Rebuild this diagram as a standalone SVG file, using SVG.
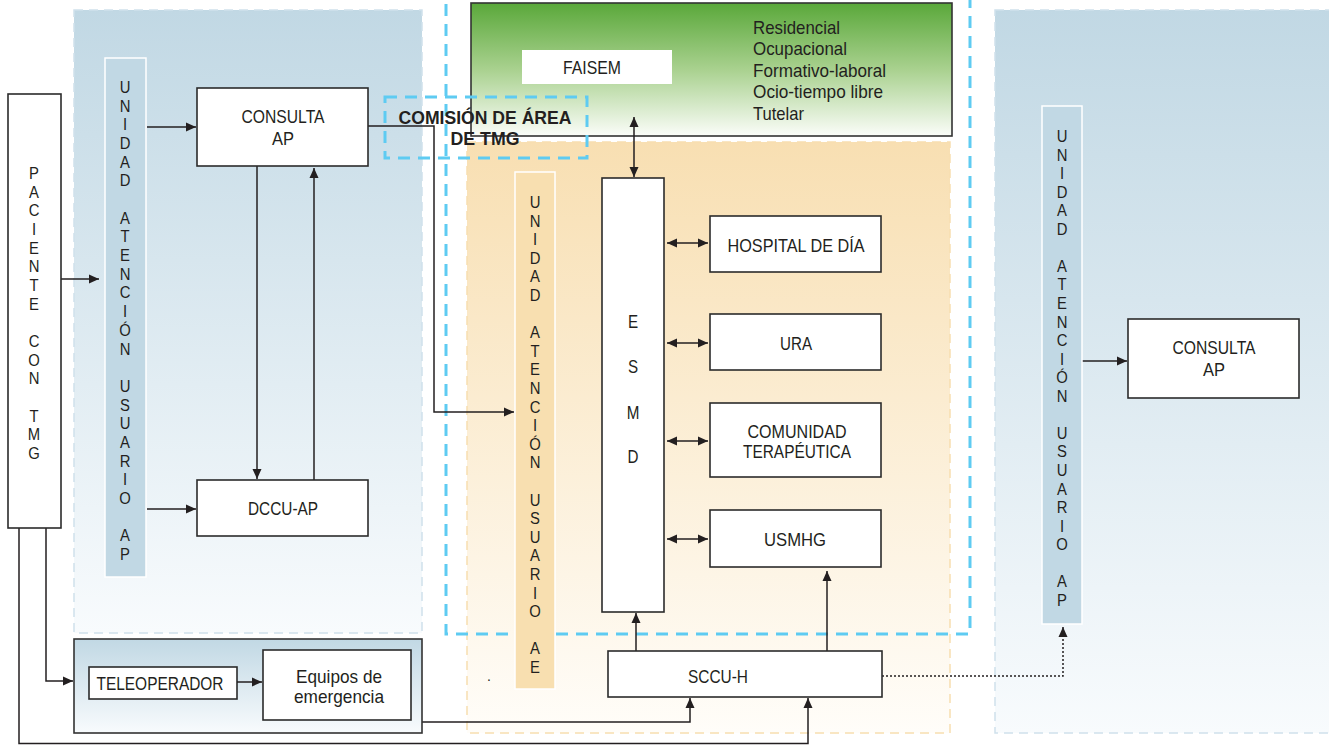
<svg xmlns="http://www.w3.org/2000/svg" width="1329" height="745" viewBox="0 0 1329 745">
<defs>
<linearGradient id="gBlue" x1="0" y1="0" x2="0" y2="1"><stop offset="0" stop-color="#c1d8e4"/><stop offset="1" stop-color="#f8fbfd"/></linearGradient>
<linearGradient id="gOrange" x1="0" y1="0" x2="0" y2="1"><stop offset="0" stop-color="#f8dfb2"/><stop offset="1" stop-color="#fffdf9"/></linearGradient>
<linearGradient id="gGreen" x1="0" y1="0" x2="0" y2="1"><stop offset="0" stop-color="#5aa83a"/><stop offset="0.5" stop-color="#a9d18f"/><stop offset="1" stop-color="#fbfdf9"/></linearGradient>
<marker id="ah" viewBox="0 0 10 10" refX="10" refY="5" markerWidth="10" markerHeight="10" markerUnits="userSpaceOnUse" orient="auto-start-reverse"><path d="M0,0.5 L10,5 L0,9.5 z" fill="#231f20"/></marker>
</defs>
<style>
.box{fill:#fff;stroke:#2b2b2b;stroke-width:1.6}
.t{font-family:"Liberation Sans Narrow","Liberation Sans",Arial,sans-serif;font-size:19px;fill:#231f20}
.m{text-anchor:middle}
.b{font-weight:bold}
.v{font-family:"Liberation Sans",Arial,sans-serif;font-size:16.5px;fill:#231f20;text-anchor:middle}
.ln{fill:none;stroke:#231f20;stroke-width:1.5}
.ar{marker-end:url(#ah)}
.da{marker-start:url(#ah);marker-end:url(#ah)}
.dot{stroke-dasharray:2 2}
.bd{fill:none;stroke:#5ecbf2;stroke-width:3;stroke-dasharray:12 8}
.pb{stroke:#cfe1ec;stroke-width:1.5;stroke-dasharray:9 6}
.po{stroke:#f8deb0;stroke-width:1.5;stroke-dasharray:9 6}
.colB{fill:#c1d8e4;stroke:#fff;stroke-width:1.5}
.colO{fill:#f8dfb0;stroke:#fff;stroke-width:1.5}
</style>

<g id="backgrounds">
<rect id="panel-left" x="74" y="10" width="348" height="623" fill="url(#gBlue)" class="pb"/>
<rect id="panel-right" x="995" y="10" width="345" height="723" fill="url(#gBlue)" class="pb"/>
<rect id="panel-orange" x="467" y="142" width="483" height="591" fill="url(#gOrange)" class="po"/>
<rect id="panel-green" x="471" y="3" width="481" height="133" fill="url(#gGreen)" stroke="#333" stroke-width="1.6"/>
<rect id="area-dashed" x="446" y="-20" width="524" height="654" class="bd"/>
</g>

<g id="node-faisem">
<rect x="522" y="50" width="150" height="34" fill="#fff"/>
<text class="t m" x="592" y="74" textLength="58" lengthAdjust="spacingAndGlyphs">FAISEM</text>
<text class="t" x="753" y="34" textLength="87" lengthAdjust="spacingAndGlyphs">Residencial</text>
<text class="t" x="753" y="55" textLength="94" lengthAdjust="spacingAndGlyphs">Ocupacional</text>
<text class="t" x="753" y="77" textLength="133" lengthAdjust="spacingAndGlyphs">Formativo-laboral</text>
<text class="t" x="753" y="98" textLength="130" lengthAdjust="spacingAndGlyphs">Ocio-tiempo libre</text>
<text class="t" x="753" y="120" textLength="51" lengthAdjust="spacingAndGlyphs">Tutelar</text>
</g>

<g id="connectors">
<path class="ln ar" d="M61,279 H99"/>
<path class="ln ar" d="M147,127 H196"/>
<path class="ln ar" d="M147,509 H196"/>
<path class="ln ar" d="M257,166 V479"/>
<path class="ln ar" d="M314,480 V168"/>
<path class="ln ar" d="M368,126 H434 V412 H514"/>
<path class="ln da" d="M634,117 V177"/>
<path class="ln da" d="M667,243 H708"/>
<path class="ln da" d="M667,343 H708"/>
<path class="ln da" d="M667,441 H708"/>
<path class="ln da" d="M667,539 H708"/>
<path class="ln ar" d="M636,651 V613"/>
<path class="ln ar" d="M827,651 V571"/>
<path class="ln ar" d="M422,722 H690 V698"/>
<path class="ln ar" d="M19,528 V743.5 H808 V698"/>
<path class="ln ar" d="M46,528 V681 H73"/>
<path class="ln ar dot" d="M882,676 H1063 V627"/>
<path class="ln ar" d="M1082,361 H1127"/>
</g>

<g id="node-comision">
<rect x="385" y="97" width="202" height="61" class="bd"/>
<text class="t m b" x="485" y="124" textLength="173" lengthAdjust="spacingAndGlyphs">COMISIÓN DE ÁREA</text>
<text class="t m b" x="485" y="145" textLength="69" lengthAdjust="spacingAndGlyphs">DE TMG</text>
</g>

<g id="node-paciente">
<rect x="8" y="94" width="53" height="434" class="box"/>
<g transform="translate(34,0) scale(0.9,1)">
<text class="v"><tspan x="0" y="179">P</tspan><tspan x="0" y="197.7">A</tspan><tspan x="0" y="216.3">C</tspan><tspan x="0" y="235">I</tspan><tspan x="0" y="253.7">E</tspan><tspan x="0" y="272.3">N</tspan><tspan x="0" y="291">T</tspan><tspan x="0" y="309.7">E</tspan><tspan x="0" y="347">C</tspan><tspan x="0" y="365.7">O</tspan><tspan x="0" y="384.3">N</tspan><tspan x="0" y="421.7">T</tspan><tspan x="0" y="440.3">M</tspan><tspan x="0" y="459">G</tspan></text>
</g>
</g>

<g id="node-uau-ap-left">
<rect x="105" y="58" width="41" height="519" class="colB"/>
<g transform="translate(125,0) scale(0.9,1)">
<text class="v"><tspan x="0" y="93">U</tspan><tspan x="0" y="111.7">N</tspan><tspan x="0" y="130.4">I</tspan><tspan x="0" y="149">D</tspan><tspan x="0" y="167.7">A</tspan><tspan x="0" y="186.4">D</tspan><tspan x="0" y="223.8">A</tspan><tspan x="0" y="242.4">T</tspan><tspan x="0" y="261.1">E</tspan><tspan x="0" y="279.8">N</tspan><tspan x="0" y="298.5">C</tspan><tspan x="0" y="317.2">I</tspan><tspan x="0" y="335.9">Ó</tspan><tspan x="0" y="354.6">N</tspan><tspan x="0" y="391.9">U</tspan><tspan x="0" y="410.6">S</tspan><tspan x="0" y="429.3">U</tspan><tspan x="0" y="448">A</tspan><tspan x="0" y="466.7">R</tspan><tspan x="0" y="485.4">I</tspan><tspan x="0" y="504">O</tspan><tspan x="0" y="541.4">A</tspan><tspan x="0" y="560.1">P</tspan></text>
</g>
</g>

<g id="node-consulta-ap-left">
<rect x="197" y="88" width="171" height="78" class="box"/>
<text class="t m" x="283" y="123" textLength="83" lengthAdjust="spacingAndGlyphs">CONSULTA</text>
<text class="t m" x="283" y="145" textLength="22" lengthAdjust="spacingAndGlyphs">AP</text>
</g>

<g id="node-dccu-ap">
<rect x="197" y="480" width="171" height="56" class="box"/>
<text class="t m" x="283" y="515" textLength="70" lengthAdjust="spacingAndGlyphs">DCCU-AP</text>
</g>

<g id="node-emergencia">
<rect x="74" y="639" width="348" height="94" fill="url(#gBlue)" stroke="#333" stroke-width="1.6"/>
<rect x="89" y="667" width="148" height="32" class="box"/>
<text class="t m" x="160" y="690" textLength="127" lengthAdjust="spacingAndGlyphs">TELEOPERADOR</text>
<path class="ln ar" d="M237,682 H262"/>
<rect x="263" y="650" width="148" height="70" class="box"/>
<text class="t m" x="339" y="683" textLength="86" lengthAdjust="spacingAndGlyphs">Equipos de</text>
<text class="t m" x="339" y="703" textLength="90" lengthAdjust="spacingAndGlyphs">emergencia</text>
</g>

<g id="node-uau-ae">
<rect x="515" y="172" width="40" height="517" class="colO"/>
<g transform="translate(535,0) scale(0.9,1)">
<text class="v"><tspan x="0" y="208">U</tspan><tspan x="0" y="226.6">N</tspan><tspan x="0" y="245.2">I</tspan><tspan x="0" y="263.8">D</tspan><tspan x="0" y="282.4">A</tspan><tspan x="0" y="301">D</tspan><tspan x="0" y="338.2">A</tspan><tspan x="0" y="356.8">T</tspan><tspan x="0" y="375.4">E</tspan><tspan x="0" y="394">N</tspan><tspan x="0" y="412.6">C</tspan><tspan x="0" y="431.2">I</tspan><tspan x="0" y="449.8">Ó</tspan><tspan x="0" y="468.4">N</tspan><tspan x="0" y="505.6">U</tspan><tspan x="0" y="524.2">S</tspan><tspan x="0" y="542.8">U</tspan><tspan x="0" y="561.4">A</tspan><tspan x="0" y="580">R</tspan><tspan x="0" y="598.6">I</tspan><tspan x="0" y="617.2">O</tspan><tspan x="0" y="654.4">A</tspan><tspan x="0" y="673">E</tspan></text>
</g>
</g>

<g id="node-esmd">
<rect x="602" y="178" width="62" height="434" class="box"/>
<g transform="translate(633,0) scale(0.8,1)">
<text class="v" style="font-size:19px"><tspan x="0" y="328">E</tspan><tspan x="0" y="373">S</tspan><tspan x="0" y="419">M</tspan><tspan x="0" y="463">D</tspan></text>
</g>
</g>

<g id="node-hospital">
<rect x="710" y="216" width="171" height="56" class="box"/>
<text class="t m" x="796" y="252" textLength="137" lengthAdjust="spacingAndGlyphs">HOSPITAL DE DÍA</text>
</g>
<g id="node-ura">
<rect x="710" y="314" width="171" height="56" class="box"/>
<text class="t m" x="796" y="350" textLength="32" lengthAdjust="spacingAndGlyphs">URA</text>
</g>
<g id="node-comunidad">
<rect x="710" y="403" width="171" height="74" class="box"/>
<text class="t m" x="797" y="438" textLength="99" lengthAdjust="spacingAndGlyphs">COMUNIDAD</text>
<text class="t m" x="797" y="458" textLength="108" lengthAdjust="spacingAndGlyphs">TERAPÉUTICA</text>
</g>
<g id="node-usmhg">
<rect x="710" y="510" width="171" height="57" class="box"/>
<text class="t m" x="795" y="546" textLength="62" lengthAdjust="spacingAndGlyphs">USMHG</text>
</g>

<g id="node-sccu-h">
<rect x="608" y="651" width="274" height="46" class="box"/>
<text class="t m" x="718" y="683" textLength="60" lengthAdjust="spacingAndGlyphs">SCCU-H</text>
</g>
<text class="t" x="487" y="681" style="font-size:14px">.</text>

<g id="node-uau-ap-right">
<rect x="1042" y="106" width="40" height="518" class="colB"/>
<g transform="translate(1062,0) scale(0.9,1)">
<text class="v"><tspan x="0" y="142">U</tspan><tspan x="0" y="160.6">N</tspan><tspan x="0" y="179.1">I</tspan><tspan x="0" y="197.7">D</tspan><tspan x="0" y="216.2">A</tspan><tspan x="0" y="234.8">D</tspan><tspan x="0" y="271.9">A</tspan><tspan x="0" y="290.5">T</tspan><tspan x="0" y="309">E</tspan><tspan x="0" y="327.6">N</tspan><tspan x="0" y="346.2">C</tspan><tspan x="0" y="364.7">I</tspan><tspan x="0" y="383.3">Ó</tspan><tspan x="0" y="401.8">N</tspan><tspan x="0" y="439">U</tspan><tspan x="0" y="457.5">S</tspan><tspan x="0" y="476.1">U</tspan><tspan x="0" y="494.6">A</tspan><tspan x="0" y="513.2">R</tspan><tspan x="0" y="531.8">I</tspan><tspan x="0" y="550.3">O</tspan><tspan x="0" y="587.4">A</tspan><tspan x="0" y="606">P</tspan></text>
</g>
</g>

<g id="node-consulta-ap-right">
<rect x="1128" y="319" width="171" height="79" class="box"/>
<text class="t m" x="1214" y="354" textLength="83" lengthAdjust="spacingAndGlyphs">CONSULTA</text>
<text class="t m" x="1214" y="376" textLength="22" lengthAdjust="spacingAndGlyphs">AP</text>
</g>
</svg>
